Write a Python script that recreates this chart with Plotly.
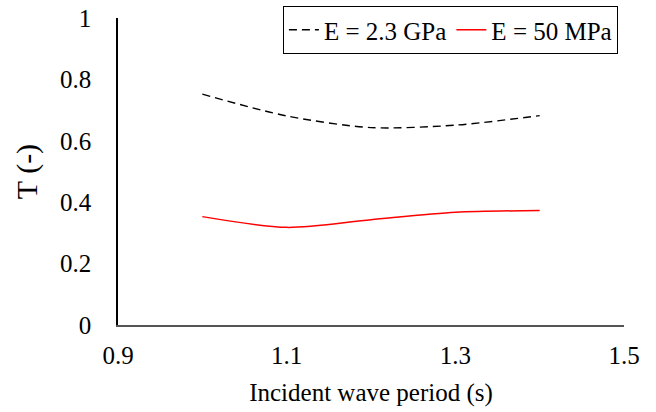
import plotly.graph_objects as go

period = [1.0, 1.1, 1.2, 1.3, 1.4]
t_stiff = [0.752, 0.681, 0.643, 0.651, 0.682]
t_soft = [0.353, 0.318, 0.343, 0.367, 0.373]
series_names = ["E = 2.3 GPa", "E = 50 MPa"]
x_ticks = [0.9, 1.1, 1.3, 1.5]
y_ticks = [0, 0.2, 0.4, 0.6, 0.8, 1.0]

font_family = "Liberation Serif"

fig = go.Figure()
fig.add_trace(go.Scatter(
    x=period, y=t_stiff, mode="lines", name=series_names[0],
    line=dict(color="black", width=1.4, dash="8px,5px", shape="spline", smoothing=0.8),
))
fig.add_trace(go.Scatter(
    x=period, y=t_soft, mode="lines", name=series_names[1],
    line=dict(color="#ff0000", width=1.5, shape="spline", smoothing=0.8),
))

fig.update_layout(
    width=656, height=412,
    margin=dict(l=118, r=32, t=18, b=87, autoexpand=False),
    paper_bgcolor="white", plot_bgcolor="white",
    font=dict(family=font_family, size=25, color="black"),
    showlegend=True,
    legend=dict(
        orientation="h", x=0.988, xanchor="right", y=1.039, yanchor="top",
        bordercolor="black", borderwidth=1, bgcolor="white",
        font=dict(family=font_family, size=25), itemwidth=30, tracegroupgap=0,
    ),
)
fig.update_xaxes(
    range=[0.9, 1.5], tickvals=x_ticks, ticktext=[f"{v:.1f}" for v in x_ticks],
    showgrid=False, zeroline=False, showline=True, linecolor="#555555", linewidth=1.5,
    ticks="", ticklabelstandoff=7,
    tickfont=dict(family=font_family, size=25),
    title=dict(text="Incident wave period (s)", font=dict(family=font_family, size=25), standoff=16),
)
fig.update_yaxes(
    range=[0, 1], tickvals=y_ticks, ticktext=["0", "0.2", "0.4", "0.6", "0.8", "1"],
    showgrid=False, zeroline=False, showline=True, linecolor="black", linewidth=1.5,
    ticks="", ticklabelstandoff=20,
    tickfont=dict(family=font_family, size=25),
    title=dict(text="T (-)", font=dict(family=font_family, size=30), standoff=14),
)

fig.write_html("out.html")
